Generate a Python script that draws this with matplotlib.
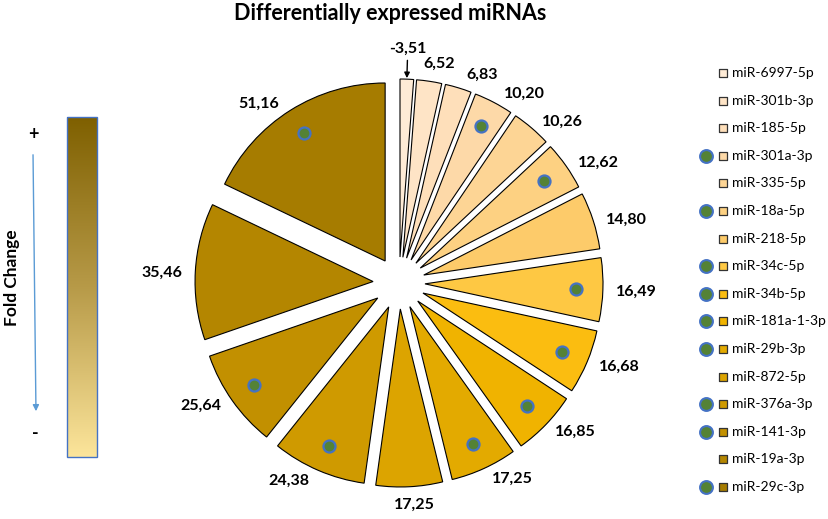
import numpy as np
import matplotlib.pyplot as plt
from matplotlib.colors import LinearSegmentedColormap

plt.rcParams['font.family'] = ['Lato', 'DejaVu Sans']

# data
mirnas = ["miR-6997-5p", "miR-301b-3p", "miR-185-5p", "miR-301a-3p", "miR-335-5p",
          "miR-18a-5p", "miR-218-5p", "miR-34c-5p", "miR-34b-5p", "miR-181a-1-3p",
          "miR-29b-3p", "miR-872-5p", "miR-376a-3p", "miR-141-3p", "miR-19a-3p",
          "miR-29c-3p"]
fold_change = [-3.51, 6.52, 6.83, 10.20, 10.26, 12.62, 14.80, 16.49, 16.68, 16.85,
               17.25, 17.25, 24.38, 25.64, 35.46, 51.16]
marked = [0, 0, 0, 1, 0, 1, 0, 1, 1, 1, 1, 0, 1, 1, 0, 1]
colors = ["#FEEBD6", "#FEE4C6", "#FEDFBA", "#FDD9A8", "#FDD595", "#FDD182",
          "#FDCB6A", "#FEC843", "#FBBD10", "#F0B300", "#E3AA00", "#DCA400",
          "#CF9A00", "#C29000", "#B48600", "#A67C00"]
# small angle nudges (degrees) so labels don't collide, like the original
nudge = [0, -1.5, -4, -4.3, -3, -2.3, -1.4, -0.3, 0.8, 1.9, 4, 0.7, -4.2, -1.6, 0.7, 4]

fig = plt.figure(figsize=(8.29, 5.19), dpi=100)
ax = fig.add_axes([0, 0, 1, 1])
ax.set_xlim(0, 829)
ax.set_ylim(519, 0)
renderer = fig.canvas.get_renderer()

# pie (pixel coords, y down)
cx, cy, R, expl = 399, 283, 178, 26
wedges, _ = ax.pie(np.abs(fold_change), colors=colors, center=(cx, cy), radius=R,
                   explode=[expl] * len(fold_change), startangle=-90, counterclock=True,
                   wedgeprops=dict(edgecolor="black", linewidth=0.8))
ax.set_xlim(0, 829)
ax.set_ylim(519, 0)

gap = 13
for w, v, m, nd in zip(wedges, fold_change, marked, nudge):
    mid = (w.theta1 + w.theta2) / 2
    th = np.deg2rad(mid)
    wx, wy = w.center
    txt = f"{v:.2f}".replace(".", ",")
    if m:
        ax.scatter(wx + 0.85 * R * np.cos(th), wy + 0.85 * R * np.sin(th), s=75,
                   color="#548235", edgecolor="#4472C4", linewidths=1.6, zorder=5)
    if v < 0:
        ax.annotate(txt, xy=(wx + R * np.cos(th), wy + R * np.sin(th) - 1),
                    xytext=(wx + (R + 23) * np.cos(th), wy + (R + 23) * np.sin(th)),
                    ha="center", va="bottom", fontsize=11.5, fontweight="bold",
                    arrowprops=dict(arrowstyle="-|>", color="black", lw=1,
                                    mutation_scale=8, shrinkA=1, shrinkB=0))
        continue
    a = np.deg2rad(mid - nd)
    ax_ = cx + (R + expl + gap) * np.cos(a)
    ay_ = cy + (R + expl + gap) * np.sin(a)
    t = ax.text(ax_, ay_, txt, ha="center", va="center", fontsize=11.5, fontweight="bold")
    bb = t.get_window_extent(renderer=renderer)
    hw, hh = bb.width / 2, bb.height / 2 * 0.8
    t.set_position((ax_ + np.cos(a) * hw, ay_ + np.sin(a) * hh))

ax.text(390, 14, "Differentially expressed miRNAs", ha="center", va="center",
        fontsize=15.5, fontweight="bold")

# legend
ly0, dy = 73, 27.6
for i, (name, c, m) in enumerate(zip(mirnas, colors, marked)):
    yy = ly0 + i * dy
    ax.scatter(723, yy, marker="s", s=36, color=c, edgecolor="#333333", linewidths=0.9)
    ax.text(732, yy, name, ha="left", va="center", fontsize=10)
    if m:
        ax.scatter(706, yy, s=85, color="#548235", edgecolor="#4472C4", linewidths=1.5)

# fold change bar
cmap = LinearSegmentedColormap.from_list("fc", ["#7F6000", "#B79A48", "#FCE59B"])
grad = np.linspace(0, 1, 256).reshape(-1, 1)
ax.imshow(grad, cmap=cmap, aspect="auto", extent=(67, 97, 457, 117))
ax.add_patch(plt.Rectangle((67, 117), 30, 340, fill=False, edgecolor="#4472C4", lw=1))
ax.text(33, 134, "+", ha="center", va="center", fontsize=13, fontweight="bold")
ax.text(35, 434, "-", ha="center", va="center", fontsize=13, fontweight="bold")
ax.annotate("", xy=(36, 414), xytext=(33, 152),
            arrowprops=dict(arrowstyle="-|>", color="#5B9BD5", lw=1, mutation_scale=9))
ax.text(12, 278, "Fold Change", rotation=90, ha="center", va="center",
        fontsize=12.5, fontweight="bold")

ax.set_xlim(0, 829)
ax.set_ylim(519, 0)
ax.axis("off")

fig.savefig("out.png", dpi=100)
